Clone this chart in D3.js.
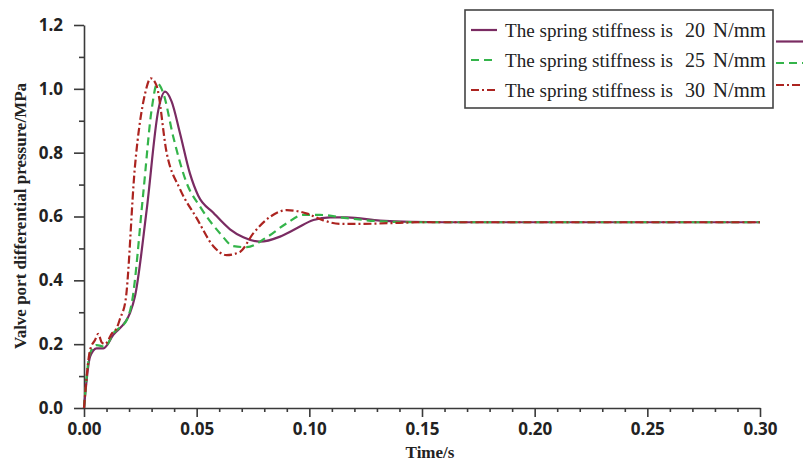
<!DOCTYPE html>
<html>
<head>
<meta charset="utf-8">
<script src="https://cdn.jsdelivr.net/npm/d3@7"></script>
<style>
  html, body { margin: 0; padding: 0; background: #fff; }
  svg { display: block; }
</style>
</head>
<body>
<svg id="chart" width="803" height="464"></svg>
<script>
// Valve port differential pressure vs. time for three spring stiffness values
const time20 = [0, 0.0027, 0.0056, 0.0086, 0.013, 0.0204, 0.0226, 0.0278, 0.033, 0.036, 0.0389, 0.0426, 0.047, 0.0507, 0.0574, 0.0648, 0.0707, 0.0781, 0.087, 0.0944, 0.1018, 0.1092, 0.1166, 0.1314, 0.145, 0.16, 0.2, 0.25, 0.3];
const pressure20 = [0, 0.161, 0.187, 0.187, 0.229, 0.297, 0.349, 0.62, 0.934, 0.991, 0.96, 0.861, 0.735, 0.665, 0.612, 0.56, 0.535, 0.521, 0.537, 0.563, 0.589, 0.597, 0.597, 0.587, 0.583, 0.582, 0.582, 0.582, 0.582];

const time25 = [0, 0.0027, 0.0056, 0.0093, 0.013, 0.019, 0.0212, 0.0263, 0.03, 0.0325, 0.0352, 0.0396, 0.0456, 0.0515, 0.0604, 0.0663, 0.0722, 0.0811, 0.09, 0.0973, 0.1047, 0.1166, 0.1314, 0.15, 0.2, 0.25, 0.3];
const pressure25 = [0, 0.172, 0.197, 0.192, 0.234, 0.276, 0.329, 0.673, 0.934, 1.017, 0.986, 0.85, 0.704, 0.631, 0.547, 0.507, 0.504, 0.535, 0.579, 0.605, 0.605, 0.595, 0.585, 0.582, 0.582, 0.582, 0.582];

const time30 = [0, 0.0027, 0.0049, 0.0063, 0.0079, 0.0093, 0.0125, 0.0145, 0.016, 0.0185, 0.0226, 0.0271, 0.0296, 0.0322, 0.0367, 0.0426, 0.05, 0.0574, 0.0633, 0.0692, 0.0751, 0.0826, 0.09, 0.099, 0.1062, 0.1136, 0.124, 0.135, 0.15, 0.2, 0.25, 0.3];
const pressure30 = [0, 0.182, 0.213, 0.232, 0.205, 0.2, 0.235, 0.25, 0.28, 0.34, 0.756, 0.985, 1.033, 1.01, 0.799, 0.686, 0.595, 0.507, 0.479, 0.489, 0.547, 0.599, 0.62, 0.609, 0.588, 0.577, 0.577, 0.579, 0.582, 0.582, 0.582, 0.582];

const seriesNames = ["20", "25", "30"];
const xTicks = [0, 0.05, 0.10, 0.15, 0.20, 0.25, 0.30];
const yTicks = [0, 0.2, 0.4, 0.6, 0.8, 1.0, 1.2];

const series = [
  { name: seriesNames[0], t: time20, p: pressure20, color: "#7a2b62", dash: null },
  { name: seriesNames[1], t: time25, p: pressure25, color: "#34b44a", dash: "8,5" },
  { name: seriesNames[2], t: time30, p: pressure30, color: "#ac2420", dash: "8,3,2,3" }
];

const svg = d3.select("#chart");
const plot = { left: 84, right: 760, top: 25, bottom: 408 };

const x = d3.scaleLinear().domain([0, 0.30]).range([plot.left, plot.right]);
const y = d3.scaleLinear().domain([0, 1.2]).range([plot.bottom, plot.top]);

const axisColor = "#3a3a3a";
const tickFont = "'Open Sans', 'Noto Sans', sans-serif";
const serif = "'Liberation Serif', 'Times New Roman', serif";

// minor ticks
const xMinor = d3.range(0, 31).map(i => i / 100).filter(v => Math.round(v * 100) % 5 !== 0);
const yMinor = [0.1, 0.3, 0.5, 0.7, 0.9, 1.1];

svg.append("g")
  .attr("transform", `translate(0,${plot.bottom})`)
  .call(d3.axisBottom(x).tickValues(xMinor).tickSize(4).tickFormat(""))
  .call(g => g.select(".domain").remove())
  .call(g => g.selectAll("line").attr("stroke", axisColor).attr("stroke-width", 1.6));

svg.append("g")
  .attr("transform", `translate(${plot.left},0)`)
  .call(d3.axisLeft(y).tickValues(yMinor).tickSize(5).tickFormat(""))
  .call(g => g.select(".domain").remove())
  .call(g => g.selectAll("line").attr("stroke", axisColor).attr("stroke-width", 1.6));

// major ticks + labels
svg.append("g")
  .attr("transform", `translate(0,${plot.bottom})`)
  .call(d3.axisBottom(x).tickValues(xTicks).tickSize(9).tickSizeOuter(0).tickPadding(6).tickFormat(d3.format(".2f")))
  .call(g => g.select(".domain").attr("stroke", axisColor).attr("stroke-width", 1.6))
  .call(g => g.selectAll("line").attr("stroke", axisColor).attr("stroke-width", 1.6))
  .call(g => g.selectAll("text").attr("fill", "#222").attr("font-family", tickFont)
    .attr("font-weight", "bold").attr("font-size", "17px"));

svg.append("g")
  .attr("transform", `translate(${plot.left},0)`)
  .call(d3.axisLeft(y).tickValues(yTicks).tickSize(10).tickSizeOuter(0).tickPadding(11).tickFormat(d3.format(".1f")))
  .call(g => g.select(".domain").attr("stroke", axisColor).attr("stroke-width", 1.6))
  .call(g => g.selectAll("line").attr("stroke", axisColor).attr("stroke-width", 1.6))
  .call(g => g.selectAll("text").attr("fill", "#222").attr("font-family", tickFont)
    .attr("font-weight", "bold").attr("font-size", "17px"));

// axis titles
svg.append("text")
  .attr("x", 430).attr("y", 458)
  .attr("text-anchor", "middle")
  .attr("font-family", serif)
  .attr("font-weight", "bold").attr("font-size", "17px").attr("fill", "#222")
  .text("Time/s");

svg.append("text")
  .attr("transform", "translate(26,216) rotate(-90)")
  .attr("text-anchor", "middle")
  .attr("font-family", serif)
  .attr("font-weight", "bold").attr("font-size", "17px").attr("fill", "#222")
  .text("Valve port differential pressure/MPa");

// curves
const line = d3.line()
  .x(d => x(d[0]))
  .y(d => y(d[1]))
  .curve(d3.curveMonotoneX);

series.forEach(s => {
  const pts = s.t.map((t, i) => [t, s.p[i]]);
  svg.append("path")
    .datum(pts)
    .attr("d", line)
    .attr("fill", "none")
    .attr("stroke", s.color)
    .attr("stroke-width", 2.2)
    .attr("stroke-dasharray", s.dash);
});

// legend
const legend = svg.append("g");
legend.append("rect")
  .attr("x", 465).attr("y", 10).attr("width", 308).attr("height", 98)
  .attr("fill", "#fff").attr("stroke", "#444").attr("stroke-width", 1.6);

const rowY = [30, 60, 90];
const tailY = [41.5, 63, 85];

// place a legend text and scale its font so it spans the given width
const legendText = (xPos, yPos, str, width) => {
  const t = legend.append("text")
    .attr("x", xPos).attr("y", yPos)
    .attr("font-family", serif)
    .attr("font-size", "20px").attr("fill", "#222")
    .text(str);
  const w = t.node().getComputedTextLength();
  if (w > 0) t.attr("font-size", (20 * width / w).toFixed(2) + "px");
  return t;
};

series.forEach((s, i) => {
  legend.append("line")
    .attr("x1", 471).attr("x2", 497).attr("y1", rowY[i]).attr("y2", rowY[i])
    .attr("stroke", s.color).attr("stroke-width", 2.2).attr("stroke-dasharray", s.dash);
  legendText(505, rowY[i] + 7, "The spring stiffness is", 168);
  legendText(685, rowY[i] + 7, s.name, 20);
  legendText(713, rowY[i] + 7, "N/mm", 53);
  legend.append("line")
    .attr("x1", 776).attr("x2", 803).attr("y1", tailY[i]).attr("y2", tailY[i])
    .attr("stroke", s.color).attr("stroke-width", 2.2).attr("stroke-dasharray", s.dash);
});
</script>
</body>
</html>
